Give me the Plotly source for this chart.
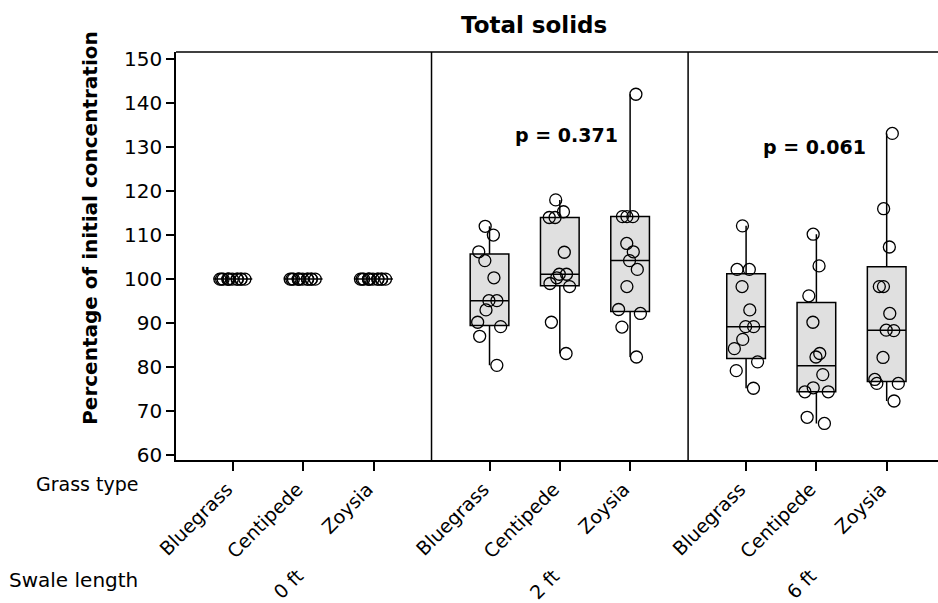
import plotly.graph_objects as go

# ---------------- data ----------------
swale_lengths = ["0 ft", "2 ft", "6 ft"]
grass_types = ["Bluegrass", "Centipede", "Zoysia"]
y_tick_values = [60, 70, 80, 90, 100, 110, 120, 130, 140, 150]
p_values = ["", "p = 0.371", "p = 0.061"]

bluegrass_0ft = [100.0, 100.0, 100.0, 100.0, 100.0, 100.0, 100.0, 100.0, 100.0, 100.0, 100.0, 100.0]
centipede_0ft = [100.0, 100.0, 100.0, 100.0, 100.0, 100.0, 100.0, 100.0, 100.0, 100.0, 100.0, 100.0]
zoysia_0ft = [100.0, 100.0, 100.0, 100.0, 100.0, 100.0, 100.0, 100.0, 100.0, 100.0, 100.0, 100.0]

bluegrass_2ft = [112.0, 110.0, 106.2, 104.2, 100.3, 95.1, 95.1, 93.0, 90.2, 89.2, 87.0, 80.4]
centipede_2ft = [118.0, 115.3, 114.0, 114.0, 106.1, 101.1, 101.1, 100.3, 99.0, 98.3, 90.2, 83.1]
zoysia_2ft = [142.0, 114.2, 114.2, 114.2, 108.1, 106.2, 104.2, 102.2, 98.3, 93.1, 92.2, 89.1, 82.3]

bluegrass_6ft = [112.1, 102.2, 102.2, 98.3, 93.0, 89.2, 89.2, 86.3, 84.2, 81.2, 79.2, 75.2]
centipede_6ft = [110.2, 103.0, 96.2, 90.2, 83.1, 82.3, 78.3, 75.3, 74.4, 74.4, 68.6, 67.2]
zoysia_6ft = [133.1, 116.0, 107.3, 98.3, 98.3, 92.2, 88.4, 88.3, 82.2, 77.2, 76.3, 76.3, 72.3]

groups = [
    [bluegrass_0ft, centipede_0ft, zoysia_0ft],
    [bluegrass_2ft, centipede_2ft, zoysia_2ft],
    [bluegrass_6ft, centipede_6ft, zoysia_6ft],
]

# ---------------- layout constants ----------------
GROUP_STEP = 3.65
BOX_W = 0.55
X_RANGE = [-0.81, 10.03]
Y_RANGE = [58.9, 151.6]
FONT = "DejaVu Sans"
BOX_FILL = "#e0e0e0"


def quantile(vals, p):
    s = sorted(vals)
    n = len(s)
    pos = (n + 1) * p
    lo = int(pos)
    frac = pos - lo
    if lo < 1:
        return s[0]
    if lo >= n:
        return s[-1]
    return s[lo - 1] + frac * (s[lo] - s[lo - 1])


fig = go.Figure()
tick_pos, tick_txt = [], []
for g, grp in enumerate(groups):
    for i, vals in enumerate(grp):
        pos = g * GROUP_STEP + i
        tick_pos.append(pos)
        tick_txt.append(grass_types[i])
        q1 = quantile(vals, 0.25)
        med = quantile(vals, 0.5)
        q3 = quantile(vals, 0.75)
        iqr = q3 - q1
        lo = min(v for v in vals if v >= q1 - 1.5 * iqr)
        hi = max(v for v in vals if v <= q3 + 1.5 * iqr)
        fig.add_trace(go.Box(
            x=[pos], q1=[q1], median=[med], q3=[q3],
            lowerfence=[lo], upperfence=[hi],
            width=BOX_W, whiskerwidth=0, boxpoints=False,
            fillcolor=BOX_FILL, line=dict(color="black", width=1.5),
            showlegend=False, hoverinfo="skip",
        ))
        fig.add_trace(go.Box(
            x=[pos] * len(vals), y=vals,
            width=BOX_W, whiskerwidth=0,
            boxpoints="all", jitter=0.8, pointpos=0,
            fillcolor="rgba(0,0,0,0)", line=dict(color="rgba(0,0,0,0)", width=0),
            marker=dict(symbol="circle-open", size=12, color="black",
                        line=dict(width=1.3, color="black")),
            showlegend=False, hoverinfo="skip",
        ))

# frame: top line and panel dividers
shapes = [dict(type="line", xref="paper", yref="paper", x0=0, x1=1, y0=1, y1=1,
               line=dict(color="black", width=1.5))]
for g in range(1, len(groups)):
    xd = ((g - 1) * GROUP_STEP + 2 + g * GROUP_STEP) / 2
    shapes.append(dict(type="line", xref="x", yref="paper", x0=xd, x1=xd, y0=0, y1=1,
                       line=dict(color="black", width=1.5)))

annotations = [
    dict(text="<b>Total solids</b>", xref="paper", yref="paper", x=0.47, y=1,
         yshift=27, showarrow=False, xanchor="center", yanchor="middle",
         font=dict(family=FONT, size=23, color="black")),
    dict(text="<b>Percentage of initial concentration</b>", xref="paper", yref="paper",
         x=-0.1129, y=0.569, textangle=-90, showarrow=False,
         xanchor="center", yanchor="middle",
         font=dict(family=FONT, size=20, color="black")),
    dict(text="Grass type", xref="paper", yref="paper", x=-0.0472, y=-0.0588,
         showarrow=False, xanchor="right", yanchor="middle",
         font=dict(family=FONT, size=19, color="black")),
    dict(text="Swale length", xref="paper", yref="paper", x=-0.0472, y=-0.294,
         showarrow=False, xanchor="right", yanchor="middle",
         font=dict(family=FONT, size=20, color="black")),
]
for g, name in enumerate(swale_lengths):
    mid = g * GROUP_STEP + 1
    annotations.append(dict(text=name, xref="x", yref="paper", x=mid - 0.22, y=-0.303,
                            textangle=-45, showarrow=False, xanchor="center",
                            yanchor="middle",
                            font=dict(family=FONT, size=19, color="black")))
p_pos = [None, (4.74, 132.7), (8.27, 130.0)]
for g, txt in enumerate(p_values):
    if txt:
        annotations.append(dict(text="<b>" + txt + "</b>", xref="x", yref="y",
                                x=p_pos[g][0], y=p_pos[g][1], showarrow=False,
                                xanchor="center", yanchor="middle",
                                font=dict(family=FONT, size=19, color="black")))

fig.update_layout(
    width=938, height=603,
    margin=dict(l=176, r=0, t=52, b=143, autoexpand=False),
    plot_bgcolor="white", paper_bgcolor="white",
    showlegend=False,
    boxmode="overlay",
    shapes=shapes,
    annotations=annotations,
    xaxis=dict(type="linear", range=X_RANGE, tickvals=tick_pos, ticktext=tick_txt,
               tickangle=-45, ticks="outside", ticklen=9, tickwidth=1.5,
               tickcolor="black", showline=True, linecolor="black", linewidth=1.5,
               showgrid=False, zeroline=False, automargin=False,
               ticklabelshift=-6,
               tickfont=dict(family=FONT, size=19, color="black")),
    yaxis=dict(range=Y_RANGE, tickvals=y_tick_values, ticks="outside", ticklen=8,
               tickwidth=1.5, tickcolor="black", showline=True, linecolor="black",
               linewidth=1.5, showgrid=False, zeroline=False, automargin=False,
               tickfont=dict(family=FONT, size=20, color="black")),
)

fig.write_html("out.html")
